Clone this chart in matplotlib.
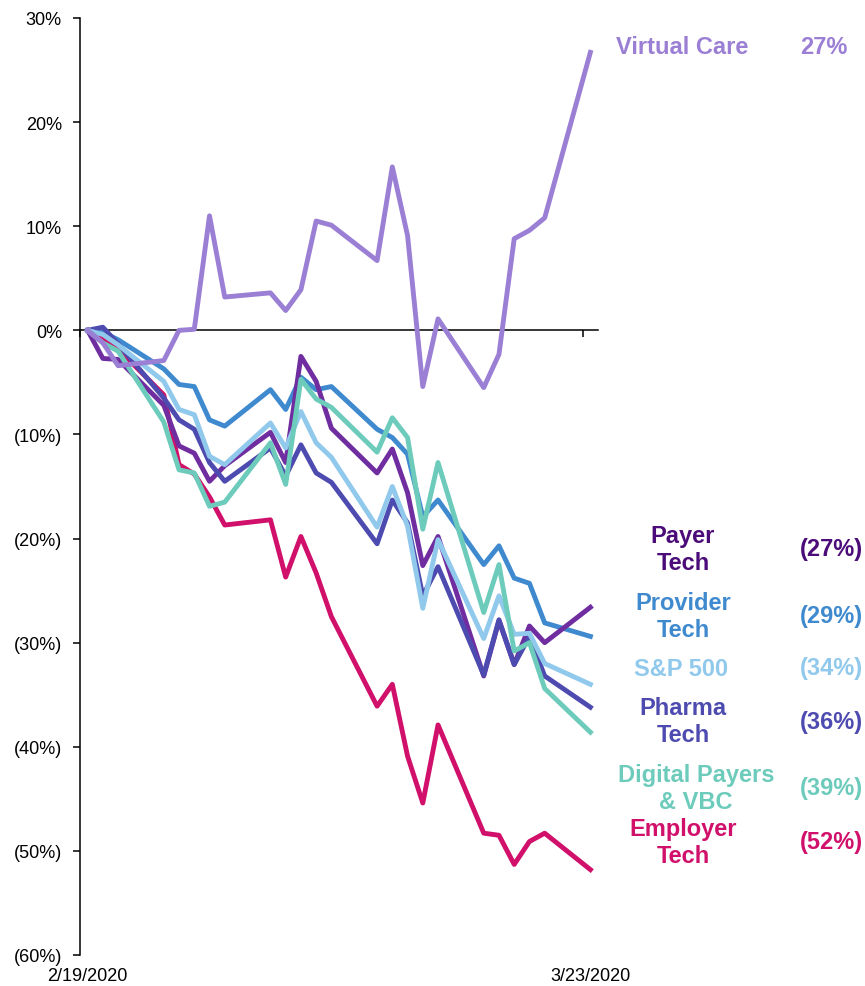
import matplotlib
matplotlib.use('Agg')
import matplotlib.pyplot as plt
from matplotlib.ticker import FuncFormatter, MultipleLocator
import pandas as pd

plt.rcParams['font.family'] = ['Liberation Sans', 'DejaVu Sans']

# trading days, 2/19/2020 - 3/23/2020
dates = ['2020-02-19', '2020-02-20', '2020-02-21', '2020-02-24', '2020-02-25',
         '2020-02-26', '2020-02-27', '2020-02-28', '2020-03-02', '2020-03-03',
         '2020-03-04', '2020-03-05', '2020-03-06', '2020-03-09', '2020-03-10',
         '2020-03-11', '2020-03-12', '2020-03-13', '2020-03-16', '2020-03-17',
         '2020-03-18', '2020-03-19', '2020-03-20', '2020-03-23']

# cumulative change, %
virtual_care = [0, -1.2, -3.4, -2.9, 0.0, 0.1, 11.0, 3.2, 3.6, 1.9, 3.9, 10.5,
                10.1, 6.7, 15.7, 9.1, -5.4, 1.1, -5.5, -2.3, 8.8, 9.6, 10.8, 26.7]
payer_tech = [0, -2.7, -2.8, -7.2, -11.1, -11.8, -14.5, -13.0, -9.8, -12.7, -2.5, -4.9,
              -9.4, -13.7, -11.4, -15.6, -22.6, -19.8, -33.2, -27.9, -32.1, -28.4, -30.0, -26.6]
provider_tech = [0, -0.2, -0.9, -3.7, -5.2, -5.4, -8.6, -9.2, -5.7, -7.6, -4.5, -5.7,
                 -5.4, -9.5, -10.3, -11.9, -17.9, -16.3, -22.5, -20.7, -23.8, -24.3, -28.1, -29.4]
sp500 = [0, -0.4, -1.4, -4.9, -7.6, -8.1, -12.1, -12.9, -8.9, -11.3, -7.8, -10.8,
         -12.2, -18.9, -15.0, -18.8, -26.7, -20.1, -29.6, -25.5, -29.2, -29.1, -32.0, -34.0]
pharma_tech = [0, 0.3, -1.3, -6.5, -8.6, -9.5, -12.7, -14.5, -11.3, -14.0, -11.0, -13.7,
               -14.6, -20.5, -16.3, -18.5, -25.5, -22.7, -33.1, -27.8, -32.1, -29.4, -33.2, -36.2]
digital_payers = [0, -1.2, -2.0, -8.8, -13.4, -13.7, -16.9, -16.5, -10.8, -14.8, -4.7, -6.6,
                  -7.4, -11.7, -8.4, -10.3, -19.1, -12.7, -27.1, -22.5, -30.8, -30.0, -34.4, -38.6]
employer_tech = [0, -0.8, -1.8, -6.2, -12.9, -13.8, -16.0, -18.7, -18.2, -23.7, -19.8, -23.3,
                 -27.5, -36.1, -34.0, -40.9, -45.4, -37.9, -48.3, -48.5, -51.3, -49.1, -48.3, -51.8]

x = pd.to_datetime(dates)

# name, values, line colour, label colour, label text, final value text, label x/y (px)
series = [
    ('Employer Tech', employer_tech, '#D0106A', '#D0106A', 'Employer\nTech', '(52%)', 683, 843),
    ('Provider Tech', provider_tech, '#3F8ACF', '#3F8ACF', 'Provider\nTech', '(29%)', 683, 617),
    ('Payer Tech', payer_tech, '#6F2DA0', '#4B0C79', 'Payer\nTech', '(27%)', 683, 550),
    ('Pharma Tech', pharma_tech, '#4E4BB0', '#4E4BB0', 'Pharma\nTech', '(36%)', 683, 722),
    ('S&P 500', sp500, '#90C9EB', '#90C9EB', 'S&P 500', '(34%)', 681, 669),
    ('Digital Payers', digital_payers, '#6DCBBB', '#6DCBBB', 'Digital Payers\n& VBC', '(39%)', 696, 789),
    ('Virtual Care', virtual_care, '#9B7FD5', '#9B7FD5', 'Virtual Care', '27%', 682, 48),
]

W, H = 865, 987
fig = plt.figure(figsize=(W / 100, H / 100), dpi=100)
ax = fig.add_axes([80 / W, 31 / H, 518 / W, 937 / H])

for name, vals, col, lcol, lab, end, lx, ly in series:
    ax.plot(x, vals, color=col, lw=3.5, solid_joinstyle='round', zorder=3)

half = pd.Timedelta(hours=12)
ax.set_xlim(x[0] - half, x[-1] + half)
ax.set_ylim(-60, 30)

ax.spines['top'].set_visible(False)
ax.spines['right'].set_visible(False)
ax.spines['bottom'].set_position(('data', 0))
ax.spines['bottom'].set_linewidth(1.1)
ax.spines['left'].set_linewidth(1.1)

ax.yaxis.set_major_locator(MultipleLocator(10))
ax.yaxis.set_major_formatter(FuncFormatter(
    lambda v, p: '0%' if abs(v) < 1e-9 else ('%d%%' % v if v > 0 else '(%d%%)' % -v)))
ax.tick_params(axis='y', direction='out', length=5, width=1.1, labelsize=13, pad=8)

ax.set_xticks([x[0] - half, x[-1] - half])
ax.set_xticklabels(['', ''])
ax.tick_params(axis='x', direction='out', length=5, width=1.1)

for d in [x[0], x[-1]]:
    ax.text(d, -62.0, d.strftime('%-m/%-d/%Y'), ha='center', va='center',
            fontsize=13, clip_on=False)

# right hand labels
for name, vals, col, lcol, lab, end, lx, ly in series:
    fig.text(lx / W, 1 - ly / H, lab, color=lcol, fontsize=17, fontweight='bold',
             ha='center', va='center', linespacing=1.2)
    if name == 'Virtual Care':
        fig.text(824 / W, 1 - ly / H, end, color=lcol, fontsize=17, fontweight='bold',
                 ha='center', va='center')
    else:
        fig.text(863 / W, 1 - ly / H, end, color=lcol, fontsize=17, fontweight='bold',
                 ha='right', va='center')

fig.savefig('out.png', dpi=100)
